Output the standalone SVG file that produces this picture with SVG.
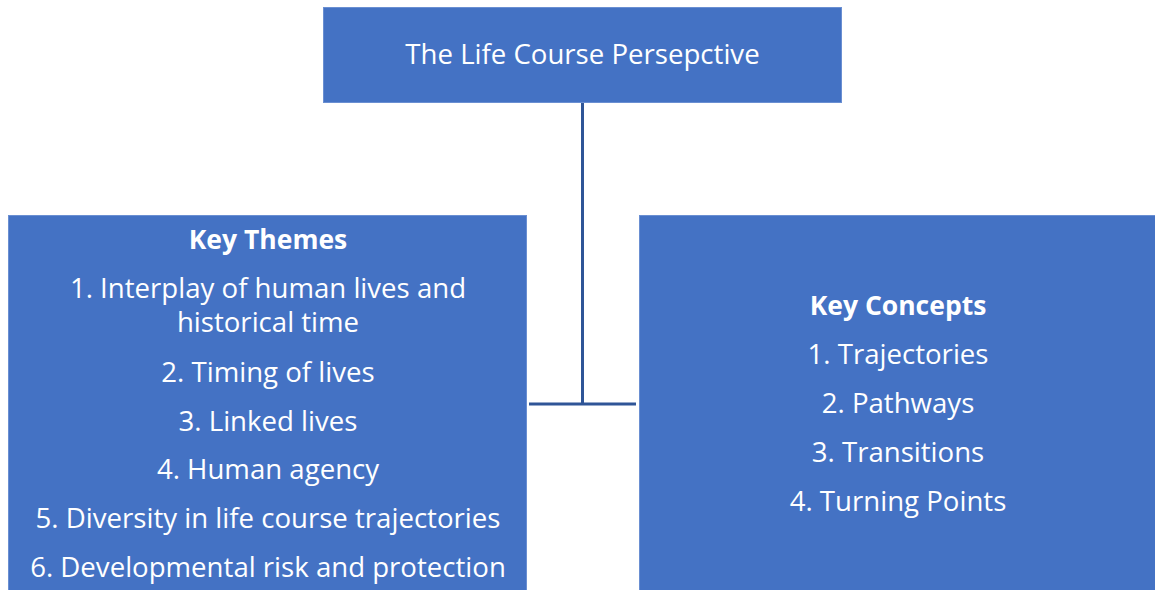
<svg xmlns="http://www.w3.org/2000/svg" width="1155" height="590" viewBox="0 0 1155 590">
  <style>
    .box { fill: #4472C4; stroke: #6A8FD2; stroke-width: 1; }
    .t { font-family: "Open Sans", "Liberation Sans", sans-serif; font-size: 27.6px; fill: #FFFFFF; text-anchor: middle; }
    .b { font-weight: bold; font-size: 26.5px; }
    .link { stroke: #2F5597; stroke-width: 3; fill: none; }
  </style>
  <rect width="1155" height="590" fill="#FFFFFF"/>
  <g id="connectors">
    <path class="link" d="M582.5 103 V404"/>
    <path class="link" d="M529 404 H636"/>
  </g>
  <g id="root">
    <rect class="box" x="323.5" y="7.5" width="518" height="95"/>
    <text class="t" x="582.5" y="64">The Life Course Persepctive</text>
  </g>
  <g id="key-themes">
    <rect class="box" x="8.5" y="215.5" width="518" height="380"/>
    <text class="t b" x="268" y="249">Key Themes</text>
    <text class="t" x="268" y="298">1. Interplay of human lives and</text>
    <text class="t" x="268" y="332">historical time</text>
    <text class="t" x="268" y="382">2. Timing of lives</text>
    <text class="t" x="268" y="431">3. Linked lives</text>
    <text class="t" x="268" y="479">4. Human agency</text>
    <text class="t" x="268" y="528">5. Diversity in life course trajectories</text>
    <text class="t" x="268" y="577">6. Developmental risk and protection</text>
  </g>
  <g id="key-concepts">
    <rect class="box" x="639.5" y="215.5" width="520" height="380"/>
    <text class="t b" x="898" y="315">Key Concepts</text>
    <text class="t" x="898" y="364">1. Trajectories</text>
    <text class="t" x="898" y="413">2. Pathways</text>
    <text class="t" x="898" y="462">3. Transitions</text>
    <text class="t" x="898" y="511">4. Turning Points</text>
  </g>
</svg>
